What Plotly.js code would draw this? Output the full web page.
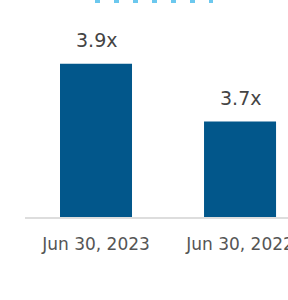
<!DOCTYPE html>
<html>
<head>
<meta charset="utf-8">
<script src="https://cdn.plot.ly/plotly-3.0.1.min.js"></script>
<style>
html,body{margin:0;padding:0;background:#fff;}
#chart{width:288px;height:300px;}
</style>
</head>
<body>
<div id="chart"></div>
<script>
var categories = ["Jun 30, 2023", "Jun 30, 2022"];
var values = [3.9, 3.7];
var valueLabels = values.map(function(v){ return v.toFixed(1) + "x"; });

var trace = {
  type: "bar",
  x: categories,
  y: values,
  marker: {color: "#02578b"},
  width: 0.5,
  hoverinfo: "skip"
};

var annotations = categories.map(function(c, i){
  return {
    x: c, y: values[i], xref: "x", yref: "y",
    text: valueLabels[i], showarrow: false,
    yanchor: "bottom", yshift: 11,
    font: {family: "DejaVu Sans", size: 19, color: "#444"}
  };
});

var layout = {
  width: 288, height: 300,
  margin: {l: 25, r: 0, t: 0, b: 83},
  paper_bgcolor: "#fff", plot_bgcolor: "#fff",
  showlegend: false,
  bargap: 0.5,
  xaxis: {
    type: "category",
    range: [-0.493, 1.333],
    showline: true, linecolor: "#dddddd", linewidth: 2,
    showgrid: false, zeroline: false,
    ticks: "outside", ticklen: 11, tickcolor: "rgba(0,0,0,0)",
    tickfont: {family: "DejaVu Sans", size: 17, color: "#555"}
  },
  yaxis: {
    range: [3.37, 4.12],
    showgrid: false, zeroline: false, showticklabels: false, showline: false
  },
  annotations: annotations,
  shapes: [{
    type: "line", xref: "paper", yref: "paper",
    x0: (95-25)/263, x1: (213-25)/263, y0: 0.993, y1: 0.993,
    line: {color: "#6cc8ee", width: 3, dash: "5px,14px"}
  }]
};

Plotly.newPlot("chart", [trace], layout, {staticPlot: true, displayModeBar: false});
</script>
</body>
</html>
